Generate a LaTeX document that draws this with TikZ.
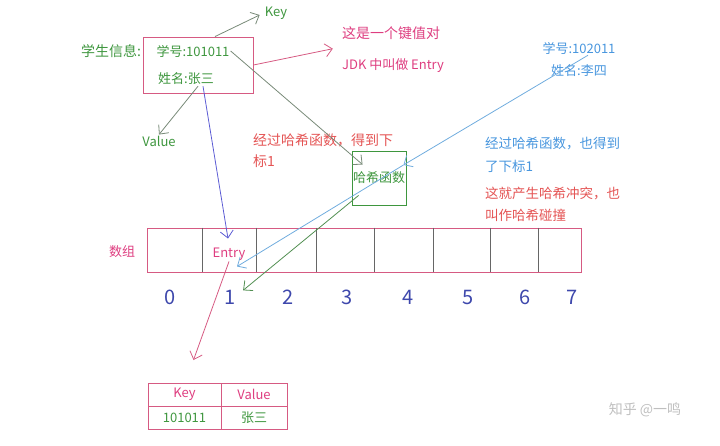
\documentclass[tikz,border=0pt]{standalone}
\usepackage{fontspec}
\newfontfamily\cjk{Noto Sans CJK SC}
\usetikzlibrary{arrows.meta,positioning,calc}

\definecolor{txtgreen}{RGB}{62,150,62}
\definecolor{txtpink}{RGB}{222,62,128}
\definecolor{txtred}{RGB}{228,84,84}
\definecolor{txtblue}{RGB}{72,150,222}
\definecolor{linepink}{RGB}{214,90,130}
\definecolor{lineblue}{RGB}{112,172,222}
\definecolor{linepurple}{RGB}{92,92,212}
\definecolor{linegray}{RGB}{120,138,120}
\definecolor{digitblue}{RGB}{62,72,172}

\begin{document}
\begin{tikzpicture}[
  x=1pt, y=-1pt,
  every node/.style={font=\cjk\fontsize{13}{15}\selectfont},
  lbl/.style={inner sep=1pt},
  note/.style={anchor=north west, inner sep=0pt, align=left},
  frame/.style={draw=linepink, line width=0.9pt},
  cell/.style={draw=linepink, line width=0.9pt, minimum height=23,
    inner sep=0pt, outer sep=0pt},
  divider/.style={draw=black!60, line width=0.9pt},
  arr/.style={-{Straight Barb[length=7pt,width=13pt]}, line width=0.8pt},
  digit/.style={text=digitblue, font=\cjk\fontsize{20}{22}\selectfont},
]
  \useasboundingbox (0,0) rectangle (720,445);

  % ── Student record ──────────────────────────────────────────────────────
  \node[frame, minimum width=110, minimum height=56, inner sep=0pt]
      (stu) at (198,65) {};
  \node[lbl, text=txtgreen, font=\cjk\fontsize{14}{16}\selectfont]
      (stulabel) at (111,51) {学生信息:};
  \node[lbl, text=txtgreen] (sno)   at (193,51) {学号:101011};
  \node[lbl, text=txtgreen] (sname) at (186,79) {姓名:张三};
  \node[lbl, text=txtgreen] (key)   at (276,13) {Key};
  \node[lbl, text=txtgreen] (value) at (159,141) {Value};

  % ── Notes ───────────────────────────────────────────────────────────────
  \node[lbl, text=txtpink, font=\cjk\fontsize{14}{16}\selectfont]
      (pair1) at (391,33) {这是一个键值对};
  \node[lbl, text=txtpink] (pair2) at (393,66) {JDK 中叫做 Entry};
  \node[note, text=txtred, font=\cjk\fontsize{14}{21}\selectfont]
      (hashnote) at (253,134) {经过哈希函数，得到下\\标1};
  \node[lbl, text=txtblue] (sno2)   at (579,48) {学号:102011};
  \node[lbl, text=txtblue] (sname2) at (579,71) {姓名:李四};
  \node[note, text=txtblue, font=\cjk\fontsize{13.5}{23}\selectfont]
      (bluenote) at (485,137) {经过哈希函数，也得到\\了下标1};
  \node[note, text=txtred, font=\cjk\fontsize{13.5}{22}\selectfont]
      (rednote) at (485,187) {这就产生哈希冲突，也\\叫作哈希碰撞};

  % ── Hash function ───────────────────────────────────────────────────────
  \node[draw=txtgreen, line width=0.9pt, minimum size=54, inner sep=0pt,
        text=txtgreen] (hash) at (379,178) {哈希函数};

  % ── Array ───────────────────────────────────────────────────────────────
  \node[frame, minimum width=434, minimum height=44, inner sep=0pt]
      (array) at (364,250) {};
  \foreach \x in {202,256,316,374,433,490,538}
    \draw[divider] (\x,0 |- array.north) -- (\x,0 |- array.south);
  \node[lbl, text=txtpink] (arrlabel) at (122,252) {数组};
  \node[lbl, text=txtpink] (entry) at (229,254) {Entry};
  \foreach \i/\x in {0/170,1/230,2/288,3/347,4/408,5/468,6/525,7/572}
    \node[digit] (idx\i) at (\x,297) {\i};

  % ── Result table ────────────────────────────────────────────────────────
  \node[cell, minimum width=73, anchor=north west, text=txtpink]
      (kh) at (148,383) {Key};
  \node[cell, minimum width=66, right=0pt of kh, text=txtpink] (vh) {Value};
  \node[cell, minimum width=73, below=0pt of kh, text=txtgreen] (kv) {101011};
  \node[cell, minimum width=66, below=0pt of vh, text=txtgreen] (vv) {张三};

  \node[text=black!25, font=\cjk\fontsize{14}{16}\selectfont]
      (mark) at (645,410) {知乎 @一鸣};

  % ── Connectors ──────────────────────────────────────────────────────────
  \coordinate (pairtip) at ($(pair1.south west)+(-8,8)$);
  \coordinate (hashtip) at ($(hash.north west)+(11,14)$);
  \coordinate (hit)     at ($(hash.east)+(-3,-13)$);
  \coordinate (tabtip)  at ($(kh.north)+(9,-23)$);

  \draw[arr, linegray]   ($(stu.north)+(17,0)$) -- ($(key.west)+(-4,2)$);
  \draw[arr, linegray]   ($(sname.south)+(12,0)$) -- (value.north);
  \draw[arr, linepurple] ($(sname.south)+(17,0)$) -- ($(entry.north)+(-1,-8)$);
  \draw[arr, linepink]   (stu.east) -- (pairtip);
  \draw[arr, linegray]   (sno.east) -- (hashtip);
  \draw[arr, lineblue]   ($(sno2.south)+(9,0)$) -- (hit);
  \draw[arr, lineblue]   (hit) -- ($(entry.south)+(8,5)$);
  \draw[arr, txtgreen!70!gray] ($(hash.south west)+(7,-10)$)
      -- ($(idx1.north east)+(4,4)$);
  \draw[arr, linepink]   (entry.south) -- (tabtip);
\end{tikzpicture}
\end{document}
